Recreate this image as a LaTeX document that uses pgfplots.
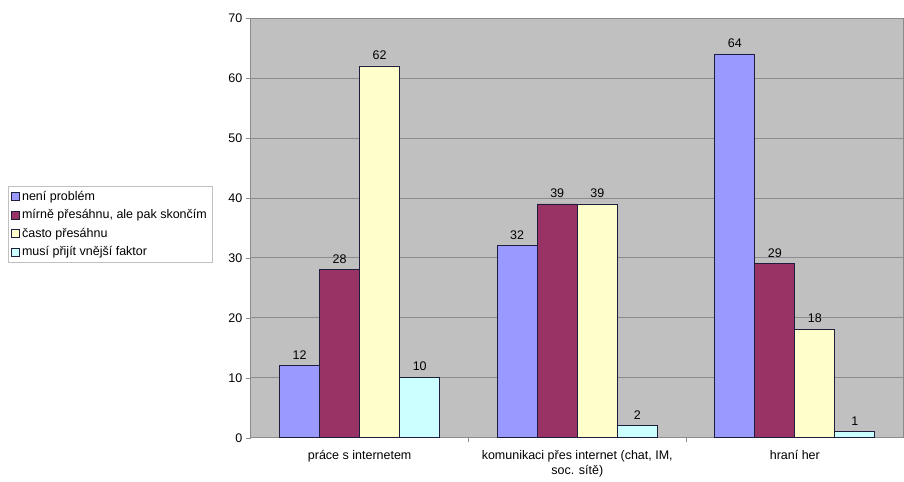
\documentclass[border=0pt]{standalone}
\usepackage{pgfplots}
\pgfplotsset{compat=1.18}
\usepackage{fontspec}
\setmainfont{Liberation Sans}
\definecolor{c1}{HTML}{9999FF}
\definecolor{c2}{HTML}{993366}
\definecolor{c3}{HTML}{FFFFCC}
\definecolor{c4}{HTML}{CCFFFF}
\definecolor{bg}{HTML}{C0C0C0}
\definecolor{gridc}{HTML}{8C8C8C}
\definecolor{edge}{HTML}{1E1E3C}
\newcommand{\fs}{\fontsize{12.5}{15}\selectfont}
\begin{document}
\begin{tikzpicture}
\begin{axis}[
  name=ax,
  scale only axis, width=653pt, height=420pt,
  xmin=-0.5, xmax=2.5, ymin=0, ymax=70,
  ybar=0pt, bar width=0.184,
  xtick={0,1,2},
  xticklabels={práce s internetem, {komunikaci přes internet (chat, IM,\\soc. sítě)}, hraní her},
  xticklabel style={align=center, font=\fs, yshift=-4pt},
  ytick={0,10,...,70},
  yticklabel style={font=\fs},
  minor xtick={0.5,1.5},
  tick align=outside, major tick length=5pt, minor tick length=4pt,
  x tick style={draw=none},
  minor x tick style={draw=gridc},
  y tick style={draw=gridc},
  tick pos=left,
  /pgf/number format/assume math mode=true,
  axis background/.style={fill=bg},
  ymajorgrids, grid style={draw=gridc, line width=0.8pt},
  axis line style={draw=gridc, line width=0.8pt},
  nodes near coords,
  nodes near coords style={font=\fs, yshift=3pt},
  legend style={at={(-0.372,0.6)}, anchor=north west, font=\fs, draw=bg, fill=white,
    legend cell align=left, row sep=3.8pt, inner xsep=3pt, inner ysep=3pt},
  legend image code/.code={\draw[#1, line width=0.8pt] (0pt,-4pt) rectangle (8pt,4pt);},
]
\addplot[fill=c1, draw=edge, line width=0.8pt] coordinates {(0,12) (1,32) (2,64)};
\addplot[fill=c2, draw=edge, line width=0.8pt] coordinates {(0,28) (1,39) (2,29)};
\addplot[fill=c3, draw=edge, line width=0.8pt] coordinates {(0,62) (1,39) (2,18)};
\addplot[fill=c4, draw=edge, line width=0.8pt] coordinates {(0,10) (1,2) (2,1)};
\legend{není problém, {mírně přesáhnu, ale pak skončím}, často přesáhnu, musí přijít vnější faktor}
\end{axis}
\path ([xshift=-251pt,yshift=-44pt]ax.south west) rectangle ([yshift=18pt]ax.north east);
\end{tikzpicture}
\end{document}
